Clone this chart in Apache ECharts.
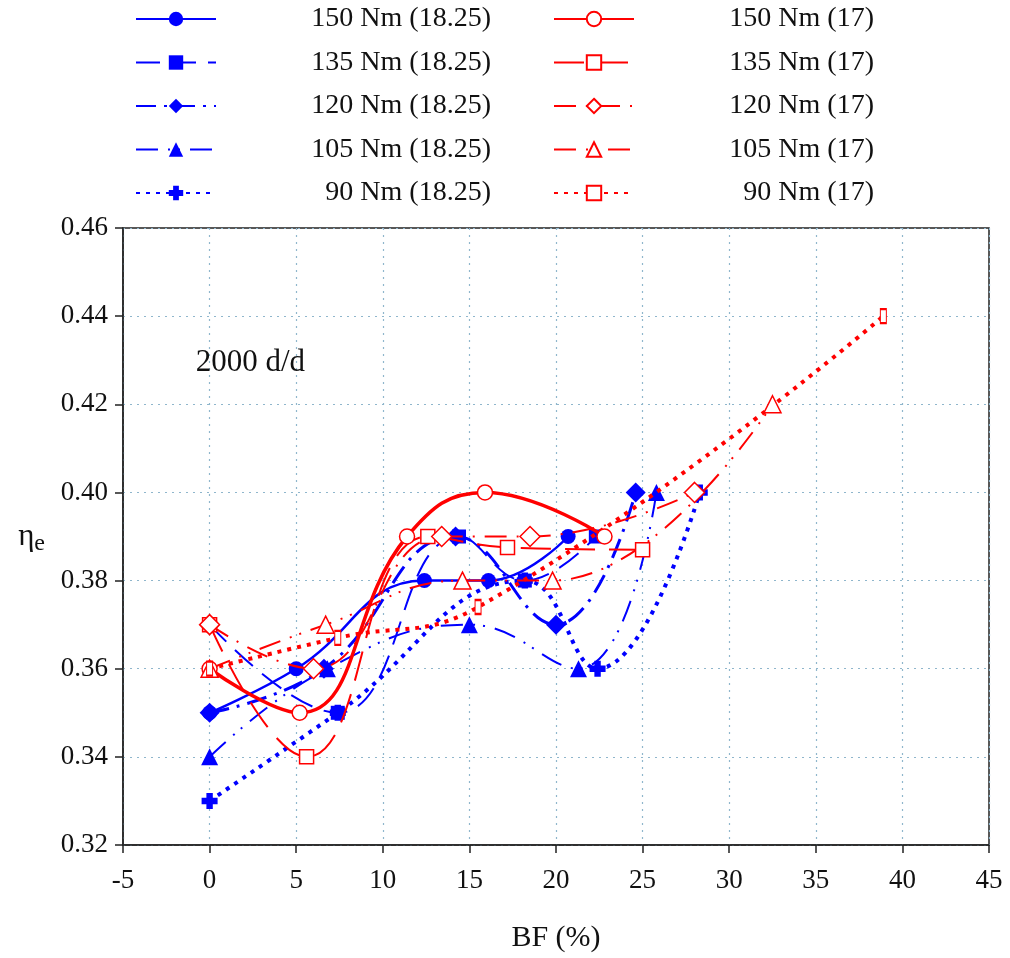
<!DOCTYPE html>
<html>
<head>
<meta charset="utf-8">
<script src="https://cdn.jsdelivr.net/npm/echarts@6/dist/echarts.min.js"></script>
<style>
  html, body { margin: 0; padding: 0; background: #fff; }
  #chart { width: 1010px; height: 958px; }
</style>
</head>
<body>
<div id="chart"></div>
<script>
// Brake fraction (BF, %) against efficiency, 2000 d/d
const SERIF = '"Liberation Serif", "Times New Roman", serif';

// 18.25 group (blue, filled markers)
const bf150a  = [0, 5.0, 12.4, 16.1, 20.7];
const eta150a = [0.35, 0.36, 0.38, 0.38, 0.39];
const bf135a  = [0, 7.4, 14.4, 18.2, 22.3];
const eta135a = [0.37, 0.35, 0.39, 0.38, 0.39];
const bf120a  = [0, 6.6, 14.2, 20.0, 24.6];
const eta120a = [0.35, 0.36, 0.39, 0.37, 0.40];
const bf105a  = [0, 6.8, 15.0, 21.3, 25.8];
const eta105a = [0.34, 0.36, 0.37, 0.36, 0.40];
const bf90a   = [0, 7.4, 18.2, 22.4, 28.3];
const eta90a  = [0.33, 0.35, 0.38, 0.36, 0.40];

// 17 group (red, open markers)
const bf150b  = [0, 5.2, 11.4, 15.9, 22.8];
const eta150b = [0.36, 0.35, 0.39, 0.40, 0.39];
const bf135b  = [0, 5.6, 12.6, 17.2, 25.0];
const eta135b = [0.37, 0.34, 0.39, 0.3875, 0.387];
const bf120b  = [0, 6.0, 13.4, 18.5, 28.0];
const eta120b = [0.37, 0.36, 0.39, 0.39, 0.40];
const bf105b  = [0, 6.7, 14.6, 19.8, 32.5];
const eta105b = [0.36, 0.37, 0.38, 0.38, 0.42];
const bf90b   = [0, 7.4, 15.5, 38.9];
const eta90b  = [0.36, 0.367, 0.374, 0.44];

const names = {
  a150: '150 Nm (18.25)', a135: '135 Nm (18.25)', a120: '120 Nm (18.25)',
  a105: '105 Nm (18.25)', a90: '90 Nm (18.25)',
  b150: '150 Nm (17)', b135: '135 Nm (17)', b120: '120 Nm (17)',
  b105: '105 Nm (17)', b90: '90 Nm (17)'
};

const xTicks = { min: -5, max: 45, step: 5 };
const yTicks = { min: 0.32, max: 0.46, step: 0.02 };

const BLUE = '#0000ff';
const RED = '#ff0000';

function pairs(xs, ys) { return xs.map((x, i) => [x, ys[i]]); }

const plusPath = 'path://M3,0h4v3h3v4h-3v3h-4v-3h-3v-4h3z';
const barPath = 'path://M0,0h4v12h-4z';

function blueSeries(name, xs, ys, symbol, size, width, type) {
  return {
    name, type: 'line', smooth: 0.45, data: pairs(xs, ys),
    symbol, symbolSize: size, showSymbol: true,
    itemStyle: { color: BLUE },
    lineStyle: { color: BLUE, width, type, cap: 'butt' },
    z: 2
  };
}
function redSeries(name, xs, ys, symbol, size, width, type) {
  return {
    name, type: 'line', smooth: 0.45, data: pairs(xs, ys),
    symbol, symbolSize: size, showSymbol: true,
    itemStyle: { color: '#ffffff', borderColor: RED, borderWidth: 1.5 },
    lineStyle: { color: RED, width, type, cap: 'butt' },
    z: 3
  };
}

const series = [
  blueSeries(names.a150, bf150a, eta150a, 'circle', 15, 2.5, 'solid'),
  blueSeries(names.a135, bf135a, eta135a, 'rect', 14, 2, [24, 12]),
  blueSeries(names.a120, bf120a, eta120a, 'diamond', 20, 3, [20, 8, 3, 8]),
  blueSeries(names.a105, bf105a, eta105a, 'triangle', 17, 2, [22, 10, 2, 8, 2, 10]),
  blueSeries(names.a90, bf90a, eta90a, plusPath, 16, 4, [4, 6]),
  redSeries(names.b150, bf150b, eta150b, 'circle', 15, 3.5, 'solid'),
  redSeries(names.b135, bf135b, eta135b, 'rect', 14, 2, [30, 14]),
  redSeries(names.b120, bf120b, eta120b, 'diamond', 20, 2, [22, 10, 2, 10]),
  redSeries(names.b105, bf105b, eta105b, 'triangle', 17, 2, [22, 10, 2, 8, 2, 10]),
  redSeries(names.b90, bf90b, eta90b, barPath, [6, 14], 4, [4, 6])
];

function legend(left, data, textWidth) {
  return {
    orient: 'vertical', left, top: 0,
    itemWidth: 80, itemHeight: 18, itemGap: 15.5,
    data,
    selectedMode: false,
    formatter: n => '{t|' + n + '}',
    textStyle: {
      rich: {
        t: {
          fontFamily: SERIF, fontSize: 28, color: '#111',
          width: textWidth, align: 'right', lineHeight: 30
        }
      }
    }
  };
}

const chart = echarts.init(document.getElementById('chart'), null, { renderer: 'canvas' });

const axisText = { fontFamily: SERIF, fontSize: 27, color: '#111' };
const gridLine = { show: true, lineStyle: { color: '#8fb6cc', type: [2, 5], width: 1.2 } };

chart.setOption({
  animation: false,
  backgroundColor: '#ffffff',
  legend: [
    legend(130, [names.a150, names.a135, names.a120, names.a105, names.a90], 270),
    legend(548, [names.b150, names.b135, names.b120, names.b105, names.b90], 235)
  ],
  grid: {
    left: 123, right: 21, top: 228, bottom: 108,
    show: true, borderColor: '#222', borderWidth: 1.5
  },
  xAxis: {
    type: 'value', min: xTicks.min, max: xTicks.max, interval: xTicks.step,
    name: 'BF (%)', nameLocation: 'middle', nameGap: 78,
    nameTextStyle: { fontFamily: SERIF, fontSize: 30, color: '#111' },
    axisLine: { show: true, onZero: false, lineStyle: { color: '#222', width: 1.5 } },
    axisTick: { show: true, inside: false, length: 8, lineStyle: { color: '#222', width: 1.5 } },
    axisLabel: Object.assign({ margin: 22 }, axisText),
    splitLine: gridLine
  },
  yAxis: {
    type: 'value', min: yTicks.min, max: yTicks.max, interval: yTicks.step,
    name: '{a|η}{b|e}', nameLocation: 'middle', nameGap: 78, nameRotate: 0,
    nameTextStyle: {
      rich: {
        a: { fontFamily: SERIF, fontSize: 31, color: '#111' },
        b: { fontFamily: SERIF, fontSize: 24, color: '#111', padding: [14, 0, 0, 0] }
      }
    },
    axisLine: { show: true, onZero: false, lineStyle: { color: '#222', width: 1.5 } },
    axisTick: { show: true, inside: false, length: 8, lineStyle: { color: '#222', width: 1.5 } },
    axisLabel: Object.assign({ margin: 15, formatter: v => v.toFixed(2) }, axisText),
    splitLine: gridLine
  },
  series
});

// Operating-point note placed in data coordinates
const notePos = chart.convertToPixel({ gridIndex: 0 }, [-0.8, 0.4295]);
chart.setOption({
  graphic: [{
    type: 'text', left: notePos[0], top: notePos[1] - 15,
    style: { text: '2000 d/d', fontFamily: SERIF, fontSize: 31, fill: '#111' }
  }]
});
</script>
</body>
</html>
